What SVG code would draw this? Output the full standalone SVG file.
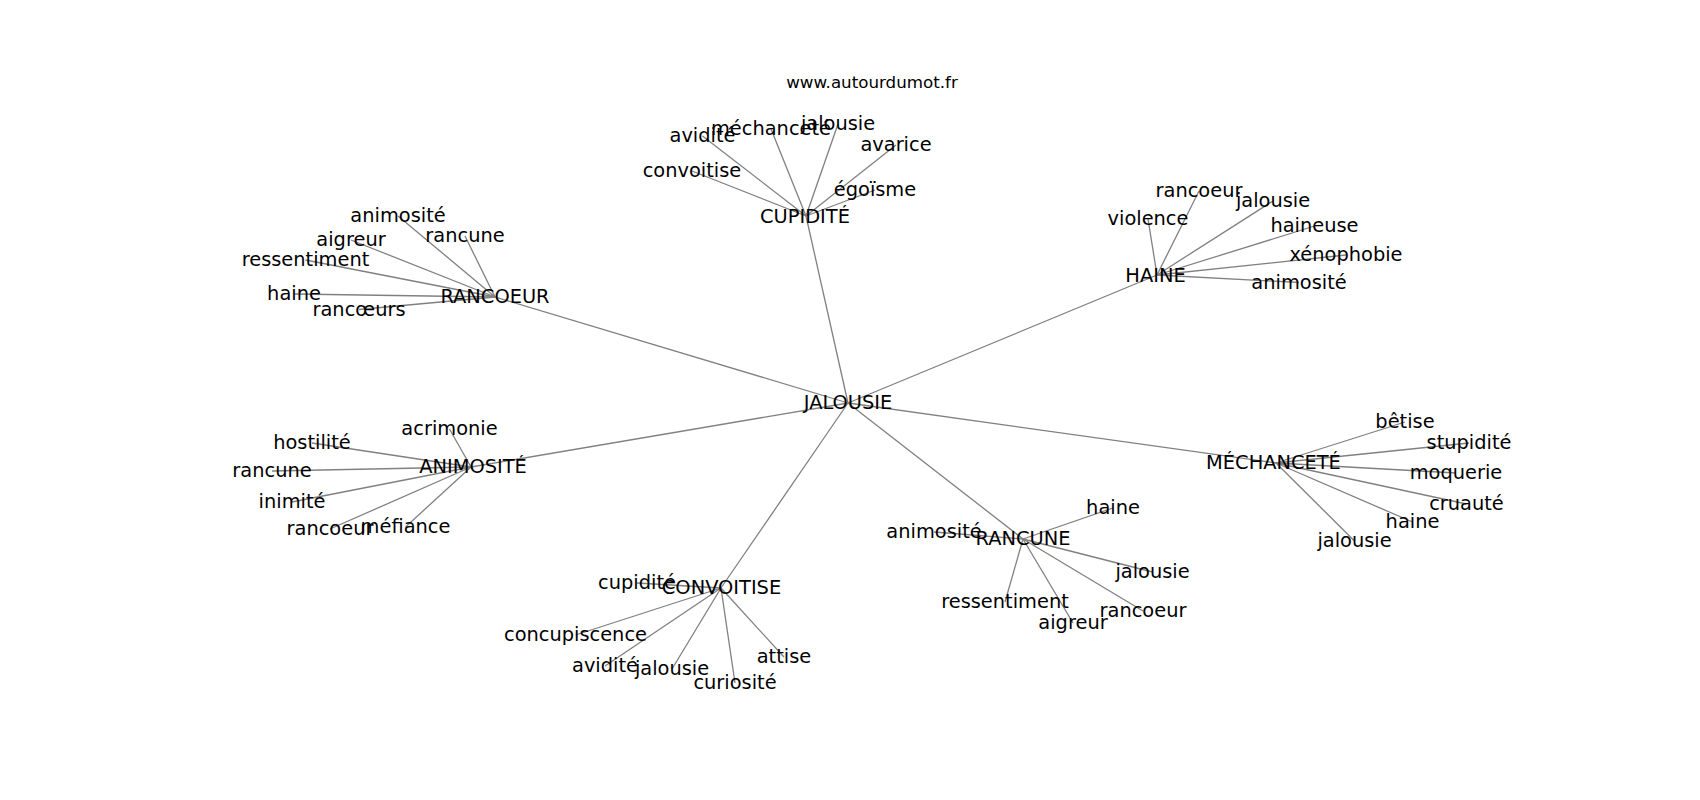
<svg xmlns="http://www.w3.org/2000/svg" width="1700" height="800" viewBox="0 0 1700 800">
<style>
.e{stroke:#808080;stroke-width:1.3;fill:none}
.t{font-family:"DejaVu Sans",sans-serif;font-size:19.4px;text-anchor:middle;fill:#000}
.title{font-family:"DejaVu Sans",sans-serif;font-size:16.7px;text-anchor:middle;fill:#000}
</style>
<rect width="1700" height="800" fill="#fff"/>
<text class="title" x="872" y="88">www.autourdumot.fr</text>
<g id="edges">
<line class="e" x1="848" y1="403" x2="806" y2="216"/>
<line class="e" x1="848" y1="403" x2="495" y2="297"/>
<line class="e" x1="848" y1="403" x2="1157" y2="275"/>
<line class="e" x1="848" y1="403" x2="471" y2="467"/>
<line class="e" x1="848" y1="403" x2="1276" y2="463"/>
<line class="e" x1="848" y1="403" x2="1023" y2="539"/>
<line class="e" x1="848" y1="403" x2="721" y2="588"/>
<line class="e" x1="806" y1="216" x2="702.5" y2="136"/>
<line class="e" x1="806" y1="216" x2="771" y2="129"/>
<line class="e" x1="806" y1="216" x2="838" y2="124"/>
<line class="e" x1="806" y1="216" x2="896" y2="145"/>
<line class="e" x1="806" y1="216" x2="692" y2="171"/>
<line class="e" x1="806" y1="216" x2="875" y2="190"/>
<line class="e" x1="495" y1="297" x2="398" y2="216"/>
<line class="e" x1="495" y1="297" x2="465" y2="236"/>
<line class="e" x1="495" y1="297" x2="351" y2="240"/>
<line class="e" x1="495" y1="297" x2="305.5" y2="260"/>
<line class="e" x1="495" y1="297" x2="294" y2="294"/>
<line class="e" x1="495" y1="297" x2="359" y2="309.5"/>
<line class="e" x1="1157" y1="275" x2="1199" y2="191"/>
<line class="e" x1="1157" y1="275" x2="1273" y2="201"/>
<line class="e" x1="1157" y1="275" x2="1148" y2="219"/>
<line class="e" x1="1157" y1="275" x2="1314.5" y2="226"/>
<line class="e" x1="1157" y1="275" x2="1346" y2="255"/>
<line class="e" x1="1157" y1="275" x2="1299" y2="282.5"/>
<line class="e" x1="471" y1="467" x2="449.5" y2="429"/>
<line class="e" x1="471" y1="467" x2="312" y2="443"/>
<line class="e" x1="471" y1="467" x2="272" y2="471"/>
<line class="e" x1="471" y1="467" x2="292" y2="502"/>
<line class="e" x1="471" y1="467" x2="330" y2="529"/>
<line class="e" x1="471" y1="467" x2="405.5" y2="527"/>
<line class="e" x1="1276" y1="463" x2="1405" y2="422"/>
<line class="e" x1="1276" y1="463" x2="1469" y2="443"/>
<line class="e" x1="1276" y1="463" x2="1456" y2="473"/>
<line class="e" x1="1276" y1="463" x2="1466.5" y2="504"/>
<line class="e" x1="1276" y1="463" x2="1412.5" y2="522"/>
<line class="e" x1="1276" y1="463" x2="1354.5" y2="541"/>
<line class="e" x1="1023" y1="539" x2="1113" y2="508"/>
<line class="e" x1="1023" y1="539" x2="934" y2="532"/>
<line class="e" x1="1023" y1="539" x2="1152.5" y2="572"/>
<line class="e" x1="1023" y1="539" x2="1005" y2="602"/>
<line class="e" x1="1023" y1="539" x2="1143" y2="611"/>
<line class="e" x1="1023" y1="539" x2="1073" y2="623"/>
<line class="e" x1="721" y1="588" x2="637" y2="583"/>
<line class="e" x1="721" y1="588" x2="575.5" y2="635"/>
<line class="e" x1="721" y1="588" x2="605" y2="666"/>
<line class="e" x1="721" y1="588" x2="672" y2="669"/>
<line class="e" x1="721" y1="588" x2="735" y2="683"/>
<line class="e" x1="721" y1="588" x2="784" y2="657"/>
</g>
<g id="n-jalousie"><text class="t" x="848" y="409">JALOUSIE</text></g>
<g id="n-cupidite"><text class="t" x="805" y="222.5">CUPIDITÉ</text></g>
<g id="n-cup-avidite"><text class="t" x="702.5" y="142">avidité</text></g>
<g id="n-cup-mechancete"><text class="t" x="771" y="135">méchanceté</text></g>
<g id="n-cup-jalousie"><text class="t" x="838" y="130">jalousie</text></g>
<g id="n-cup-avarice"><text class="t" x="896" y="151">avarice</text></g>
<g id="n-cup-convoitise"><text class="t" x="692" y="177">convoitise</text></g>
<g id="n-cup-egoisme"><text class="t" x="875" y="196">égoïsme</text></g>
<g id="n-rancoeur"><text class="t" x="495" y="303">RANCOEUR</text></g>
<g id="n-ran-animosite"><text class="t" x="398" y="222">animosité</text></g>
<g id="n-ran-rancune"><text class="t" x="465" y="242">rancune</text></g>
<g id="n-ran-aigreur"><text class="t" x="351" y="246">aigreur</text></g>
<g id="n-ran-ressentiment"><text class="t" x="305.5" y="266">ressentiment</text></g>
<g id="n-ran-haine"><text class="t" x="294" y="300">haine</text></g>
<g id="n-ran-rancoeurs"><text class="t" x="359" y="315.5">rancœurs</text></g>
<g id="n-haine"><text class="t" x="1155.5" y="281.5">HAINE</text></g>
<g id="n-hai-rancoeur"><text class="t" x="1199" y="197">rancoeur</text></g>
<g id="n-hai-jalousie"><text class="t" x="1273" y="207">jalousie</text></g>
<g id="n-hai-violence"><text class="t" x="1148" y="225">violence</text></g>
<g id="n-hai-haineuse"><text class="t" x="1314.5" y="232">haineuse</text></g>
<g id="n-hai-xenophobie"><text class="t" x="1346" y="261">xénophobie</text></g>
<g id="n-hai-animosite"><text class="t" x="1299" y="288.5">animosité</text></g>
<g id="n-animosite"><text class="t" x="473" y="473">ANIMOSITÉ</text></g>
<g id="n-ani-acrimonie"><text class="t" x="449.5" y="435">acrimonie</text></g>
<g id="n-ani-hostilite"><text class="t" x="312" y="449">hostilité</text></g>
<g id="n-ani-rancune"><text class="t" x="272" y="477">rancune</text></g>
<g id="n-ani-inimite"><text class="t" x="292" y="508">inimité</text></g>
<g id="n-ani-rancoeur"><text class="t" x="330" y="535">rancoeur</text></g>
<g id="n-ani-mefiance"><text class="t" x="405.5" y="533">méfiance</text></g>
<g id="n-mechancete"><text class="t" x="1273.5" y="469">MÉCHANCETÉ</text></g>
<g id="n-mec-betise"><text class="t" x="1405" y="428">bêtise</text></g>
<g id="n-mec-stupidite"><text class="t" x="1469" y="449">stupidité</text></g>
<g id="n-mec-moquerie"><text class="t" x="1456" y="479">moquerie</text></g>
<g id="n-mec-cruaute"><text class="t" x="1466.5" y="510">cruauté</text></g>
<g id="n-mec-haine"><text class="t" x="1412.5" y="528">haine</text></g>
<g id="n-mec-jalousie"><text class="t" x="1354.5" y="547">jalousie</text></g>
<g id="n-rancune"><text class="t" x="1023" y="545">RANCUNE</text></g>
<g id="n-rcu-haine"><text class="t" x="1113" y="514">haine</text></g>
<g id="n-rcu-animosite"><text class="t" x="934" y="538">animosité</text></g>
<g id="n-rcu-jalousie"><text class="t" x="1152.5" y="578">jalousie</text></g>
<g id="n-rcu-ressentiment"><text class="t" x="1005" y="608">ressentiment</text></g>
<g id="n-rcu-rancoeur"><text class="t" x="1143" y="617">rancoeur</text></g>
<g id="n-rcu-aigreur"><text class="t" x="1073" y="629">aigreur</text></g>
<g id="n-convoitise"><text class="t" x="721.5" y="593.5">CONVOITISE</text></g>
<g id="n-con-cupidite"><text class="t" x="637" y="589">cupidité</text></g>
<g id="n-con-concupiscence"><text class="t" x="575.5" y="641">concupiscence</text></g>
<g id="n-con-avidite"><text class="t" x="605" y="672">avidité</text></g>
<g id="n-con-jalousie"><text class="t" x="672" y="675">jalousie</text></g>
<g id="n-con-curiosite"><text class="t" x="735" y="689">curiosité</text></g>
<g id="n-con-attise"><text class="t" x="784" y="663">attise</text></g>
</svg>
